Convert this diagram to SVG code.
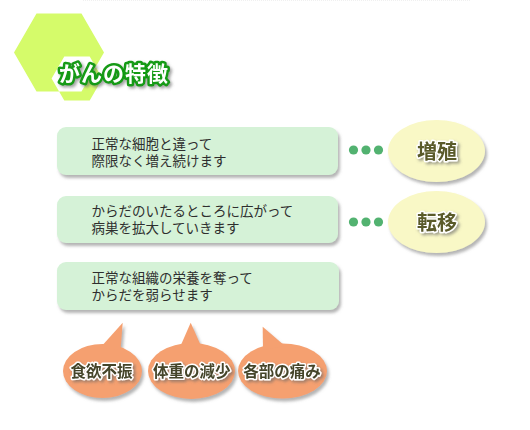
<svg xmlns="http://www.w3.org/2000/svg" width="530" height="430" viewBox="0 0 530 430">
<style>
.box{fill:#d5f2d7}
.bt{font-family:"Noto Sans CJK JP","Noto Sans",sans-serif;font-size:13.5px;fill:#2e2e2e}
.dot{fill:#52b270}
.ell{fill:#f9f8c6}
.et{font-family:"Noto Sans CJK JP","Noto Sans",sans-serif;font-size:20px;font-weight:bold;fill:#5a5a2a;stroke:#ffffff;stroke-width:3;paint-order:stroke;stroke-linejoin:round;text-anchor:middle}
.bub{fill:#f5a070}
.bubt{font-family:"Noto Sans CJK JP","Noto Sans",sans-serif;font-size:15.5px;font-weight:bold;fill:#45452a;stroke:#ffffff;stroke-width:3;paint-order:stroke;stroke-linejoin:round;text-anchor:middle}
</style>
<defs>
<filter id="sh" x="-10%" y="-20%" width="125%" height="150%">
<feDropShadow dx="2" dy="3" stdDeviation="1.8" flood-color="#777777" flood-opacity="0.55"/>
</filter>
<filter id="tsh" x="-10%" y="-30%" width="125%" height="170%">
<feDropShadow dx="2" dy="2" stdDeviation="1.5" flood-color="#666666" flood-opacity="0.6"/>
</filter>
</defs>
<rect width="530" height="430" fill="#ffffff"/>
<line x1="83" y1="0.5" x2="470" y2="0.5" stroke="#f0f0f0" stroke-width="1" stroke-dasharray="1 1"/>

<g id="title">
<path fill="#d5fb6a" fill-rule="evenodd" d="M36.5,13.5 L81.5,13.5 L104,52.5 L81.5,91.5 L36.5,91.5 L14,52.5 Z M64.3,56.5 L89.7,56.5 L102.4,78.5 L89.7,100.5 L64.3,100.5 L51.6,78.5 Z"/>
<text x="59" y="80.5" filter="url(#tsh)" font-family="'Noto Sans CJK JP','Noto Sans',sans-serif" font-size="21" font-weight="bold" letter-spacing="1" fill="#ffffff" stroke="#129a12" stroke-width="5" stroke-linejoin="round" paint-order="stroke">がんの特徴</text>
</g>

<g id="box1">
<rect class="box" x="57" y="127" width="281" height="48" rx="9" filter="url(#sh)"/>
<text class="bt"><tspan x="91.5" y="149">正常な細胞と違って</tspan><tspan x="91.5" y="166">際限なく増え続けます</tspan></text>
</g>
<g id="box2">
<rect class="box" x="57" y="196" width="281" height="47" rx="9" filter="url(#sh)"/>
<text class="bt"><tspan x="91.5" y="216">からだのいたるところに広がって</tspan><tspan x="91.5" y="233">病巣を拡大していきます</tspan></text>
</g>
<g id="box3">
<rect class="box" x="57" y="262" width="282" height="48" rx="9" filter="url(#sh)"/>
<text class="bt"><tspan x="91.5" y="283">正常な組織の栄養を奪って</tspan><tspan x="91.5" y="300">からだを弱らせます</tspan></text>
</g>

<g id="connectors">
<circle class="dot" cx="353.5" cy="150" r="4.6"/>
<circle class="dot" cx="366" cy="150" r="4.6"/>
<circle class="dot" cx="378.5" cy="150" r="4.6"/>
<circle class="dot" cx="353.5" cy="222" r="4.6"/>
<circle class="dot" cx="366" cy="222" r="4.6"/>
<circle class="dot" cx="378.5" cy="222" r="4.6"/>
</g>

<g id="zoshoku">
<ellipse class="ell" cx="436.5" cy="151" rx="48.5" ry="31" filter="url(#sh)"/>
<text class="et" x="437" y="158.5" filter="url(#tsh)">増殖</text>
</g>
<g id="teni">
<ellipse class="ell" cx="436.5" cy="222" rx="48.5" ry="31" filter="url(#sh)"/>
<text class="et" x="437" y="229.5" filter="url(#tsh)">転移</text>
</g>

<g id="bubble1">
<g class="bub" filter="url(#sh)">
<ellipse cx="102.5" cy="371" rx="39.5" ry="27"/>
<polygon points="100,348 122.7,322.7 120.5,350"/>
</g>
<text class="bubt" x="101.5" y="377" filter="url(#tsh)">食欲不振</text>
</g>
<g id="bubble2">
<g class="bub" filter="url(#sh)">
<ellipse cx="191.5" cy="371" rx="43.5" ry="28"/>
<polygon points="180.5,346 190.7,322.7 201,346"/>
</g>
<text class="bubt" x="191.7" y="377" filter="url(#tsh)">体重の減少</text>
</g>
<g id="bubble3">
<g class="bub" filter="url(#sh)">
<ellipse cx="282.5" cy="371" rx="44.5" ry="27.5"/>
<polygon points="263,350 262.7,326.7 285,346"/>
</g>
<text class="bubt" x="282" y="377" filter="url(#tsh)">各部の痛み</text>
</g>
</svg>
